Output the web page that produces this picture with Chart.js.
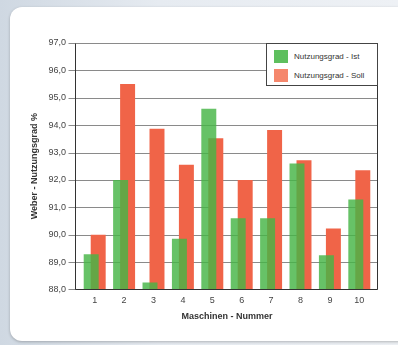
<!DOCTYPE html>
<html>
<head>
<meta charset="utf-8">
<script src="https://cdn.jsdelivr.net/npm/chart.js@4.4.0/dist/chart.umd.min.js"></script>
<style>
  html, body { margin: 0; padding: 0; }
  body {
    width: 398px; height: 345px; overflow: hidden; position: relative;
    background: linear-gradient(90deg, #cfd8e2 0%, #e6ebf1 40%, #eef1f5 100%);
    font-family: "Liberation Sans", Arial, sans-serif;
  }
  #card {
    position: absolute; left: 10px; top: 7px; width: 400px; height: 334px;
    background: #fff; border-radius: 12px;
    box-shadow: 0 1px 3px rgba(0,0,0,0.25);
  }
  #wrap { position: absolute; left: 0; top: 0; width: 398px; height: 345px; }
  #legend {
    position: absolute; left: 266px; top: 43px; width: 110px; height: 41px;
    border: 1px solid #444; background: #fff;
    font-size: 8px; color: #333;
  }
  #legend div { position: absolute; left: 7px; height: 13px; line-height: 13px; }
  #legend span.box { display: inline-block; width: 14px; height: 13px; vertical-align: top; margin-right: 6px; }
</style>
</head>
<body>
<div id="card"></div>
<div id="wrap"><canvas id="myBarChart" width="398" height="345"></canvas></div>
<div id="legend">
  <div style="top:6px"><span class="box" style="background:#5ebf5e"></span>Nutzungsgrad - Ist</div>
  <div style="top:25px"><span class="box" style="background:#f5876c"></span>Nutzungsgrad - Soll</div>
</div>
<script>
var machines = ['1', '2', '3', '4', '5', '6', '7', '8', '9', '10'];
var istValues = [89.28, 92.0, 88.25, 89.85, 94.6, 90.6, 90.6, 92.6, 89.25, 91.28];
var sollValues = [90.0, 95.5, 93.87, 92.55, 93.52, 92.0, 93.82, 92.72, 90.22, 92.35];
var yMin = 88, yMax = 97;

var ctx = document.getElementById('myBarChart').getContext('2d');
var chart = new Chart(ctx, {
    type: 'bar',
    data: {
        labels: machines,
        datasets: [{
            label: 'Nutzungsgrad - Ist',
            backgroundColor: 'rgba(70, 180, 70, 0.82)',
            data: istValues,
            order: 0,
            categoryPercentage: 0.476,
            barPercentage: 2.14
        }, {
            label: 'Nutzungsgrad - Soll',
            backgroundColor: 'rgb(240, 100, 72)',
            data: sollValues,
            order: 1,
            categoryPercentage: 0.476,
            barPercentage: 2.14
        }]
    },
    options: {
        responsive: false,
        animation: false,
        layout: { padding: { left: 0, right: 24, top: 43, bottom: 23 } },
        plugins: { legend: { display: false }, tooltip: { enabled: false } },
        scales: {
            x: {
                grid: { display: false, drawTicks: false },
                border: { display: false },
                ticks: { color: '#444', font: { size: 9, family: 'Liberation Sans' }, padding: 6 },
                title: { display: true, text: 'Maschinen - Nummer', color: '#333',
                    font: { size: 9, weight: 'bold', family: 'Liberation Sans' }, padding: { top: -1, bottom: 0 } }
            },
            y: {
                min: yMin, max: yMax,
                afterFit: function (s) { s.width = 80; },
                grid: { display: false, drawTicks: false },
                border: { display: false },
                ticks: { stepSize: 1, color: '#444', font: { size: 9, family: 'Liberation Sans' }, padding: 14,
                    callback: function (v) { return v.toFixed(1).replace('.', ','); } },
                title: { display: true, text: 'Weber - Nutzungsgrad %', color: '#333',
                    font: { size: 9, weight: 'bold', family: 'Liberation Sans' }, padding: { top: 29, bottom: 0 } }
            }
        }
    },
    plugins: [{
        // frame and grid drawn a little wider than the category area
        id: 'frame',
        beforeDatasetsDraw: function (c) {
            var a = c.chartArea, g = c.ctx, y = c.scales.y;
            var l = Math.round(a.left - 5) + 0.5, r = Math.round(a.right + 3) + 0.5;
            g.save();
            g.lineWidth = 1;
            g.strokeStyle = '#8a8a8a';
            y.ticks.forEach(function (t) {
                var py = Math.round(y.getPixelForValue(t.value)) + 0.5;
                g.beginPath();
                g.moveTo(l - 7, py);
                g.lineTo(r, py);
                g.stroke();
            });
            g.restore();
        },
        afterDraw: function (c) {
            var a = c.chartArea, g = c.ctx;
            var l = Math.round(a.left - 5) + 0.5, r = Math.round(a.right + 3) + 0.5;
            var b = Math.round(a.bottom) + 0.5, t = Math.round(a.top) + 0.5;
            g.save();
            g.strokeStyle = '#333';
            g.lineWidth = 1;
            g.beginPath();
            g.moveTo(l, t);
            g.lineTo(l, b);
            g.lineTo(r, b);
            g.lineTo(r, t);
            g.stroke();
            g.restore();
        }
    }]
});
</script>
</body>
</html>
